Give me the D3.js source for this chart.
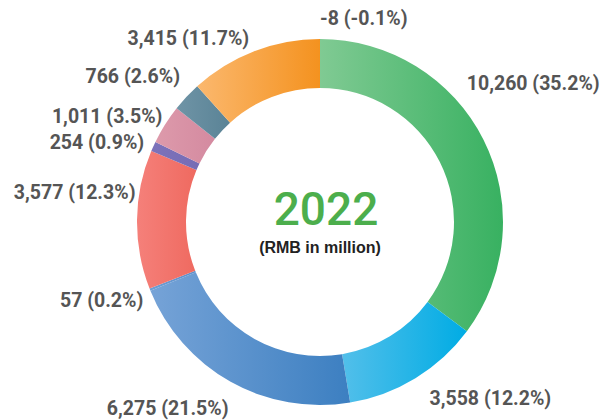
<!DOCTYPE html>
<html>
<head>
<meta charset="utf-8">
<script src="https://cdn.jsdelivr.net/npm/d3@7"></script>
<style>
  body { margin: 0; background: #fff; }
  svg { display: block; font-family: Roboto, "Noto Sans", sans-serif; }
</style>
</head>
<body>
<svg width="602" height="420"></svg>
<script>
// segments, clockwise from 12 o'clock
var values = [10260, 3558, 6275, 57, 3577, 254, 1011, 766, 3415, -8];
var valueLabels = ["10,260", "3,558", "6,275", "57", "3,577", "254", "1,011", "766", "3,415", "-8"];
var pctLabels = ["35.2%", "12.2%", "21.5%", "0.2%", "12.3%", "0.9%", "3.5%", "2.6%", "11.7%", "-0.1%"];

// gradient ends (left -> right) for each segment
var colorFrom = ["#80ca93", "#52bfea", "#76a3d7", "#6f9fd4", "#f5807a", "#7c72ba", "#dd9aab", "#6f94a6", "#fbb86e", "#f0a060"];
var colorTo   = ["#38b161", "#00ace4", "#3c7fc1", "#5a8fcc", "#ef6a60", "#766cb5", "#d48aa0", "#5a8396", "#f4921f", "#8cc89a"];
// hand nudges for the labels: angle (deg) and extra radius (px)
var labelShift = [-16.7, -0.5, -3, -2, 8.6, 0, 1.8, 3, 0, 0];
var labelPad   = [4, 9, 9, -5, -11, -5, -8, 4, -1, 6];

var svg = d3.select("svg"),
    cx = 320, cy = 222,
    rOut = 183, rIn = 134, rLabel = 198;

var data = values.map((v, i) => ({value: v, label: valueLabels[i] + " (" + pctLabels[i] + ")", i: i}));

var pie = d3.pie().value(d => d.value).sort(null);
var arc = d3.arc().innerRadius(rIn).outerRadius(rOut);
var arcs = pie(data);

var defs = svg.append("defs");
var grads = defs.selectAll("linearGradient")
    .data(arcs)
    .enter().append("linearGradient")
    .attr("id", d => "g" + d.data.i)
    .attr("x1", 0).attr("y1", 0).attr("x2", 1).attr("y2", 0);
grads.append("stop").attr("offset", 0).attr("stop-color", d => colorFrom[d.data.i]);
grads.append("stop").attr("offset", 1).attr("stop-color", d => colorTo[d.data.i]);

var g = svg.append("g").attr("transform", "translate(" + cx + "," + cy + ")");

g.selectAll("path")
    .data(arcs)
    .enter().append("path")
    .attr("d", arc)
    .attr("fill", d => "url(#g" + d.data.i + ")");

g.selectAll("text.lbl")
    .data(arcs)
    .enter().append("text")
    .attr("class", "lbl")
    .each(function(d){
        var i = d.data.i;
        var mid = (d.startAngle + d.endAngle) / 2;
        var a = mid + labelShift[i] * Math.PI / 180;
        var r = rLabel + labelPad[i];
        var right = mid < Math.PI || mid >= 2 * Math.PI - 1e-6;
        d3.select(this)
            .attr("x", Math.sin(a) * r).attr("y", -Math.cos(a) * r)
            .attr("dy", "0.36em")
            .attr("text-anchor", right ? "start" : "end");
    })
    .attr("font-size", 19.5)
    .attr("font-weight", 700)
    .attr("fill", "#555")
    .text(d => d.data.label);

g.append("text")
    .attr("x", 6)
    .attr("y", 3)
    .attr("text-anchor", "middle")
    .attr("font-size", 46)
    .attr("font-weight", 500)
    .attr("fill", "#4cae4c")
    .text("2022");

g.append("text")
    .attr("y", 30.5)
    .attr("text-anchor", "middle")
    .attr("font-family", "'Liberation Sans', Arial, sans-serif")
    .attr("font-size", 16)
    .attr("font-weight", 700)
    .attr("fill", "#222")
    .text("(RMB in million)");
</script>
</body>
</html>
